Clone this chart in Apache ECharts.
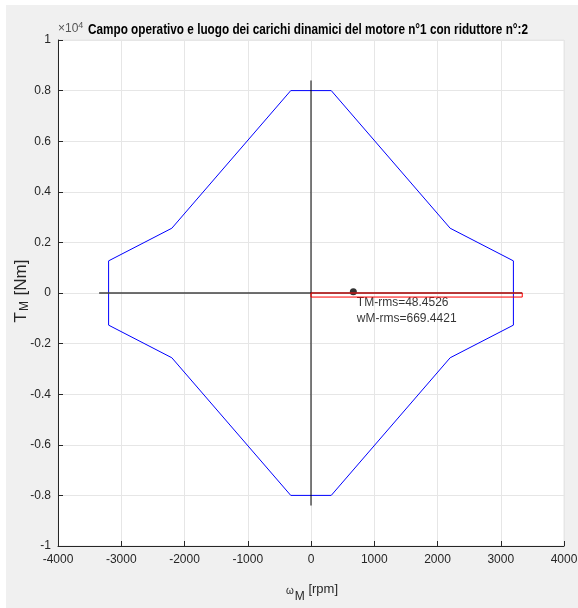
<!DOCTYPE html>
<html>
<head>
<meta charset="utf-8">
<script src="https://cdn.jsdelivr.net/npm/echarts@6/dist/echarts.min.js"></script>
<style>
  html, body { margin: 0; padding: 0; background: #fff; }
  #chart { position: absolute; left: 6px; top: 5px; width: 572px; height: 603px; background: #f0f0f0; }
</style>
</head>
<body>
<div id="chart"></div>
<script>
// operating envelope (blue)
const envW = [-320, 320, 2200, 3200, 3200, 2200, 320, -320, -2200, -3200, -3200, -2200, -320];
const envT = [8000, 8000, 2560, 1270, -1270, -2560, -8000, -8000, -2560, -1270, 1270, 2560, 8000];

// black reference axes
const axisHW = [-3350, 3340];
const axisHT = [0, 0];
const axisVW = [0, 0];
const axisVT = [8400, -8400];

// dynamic load locus (red)
const loadW = [0, 3340, 3340, 0, 0];
const loadT = [0, 0, -160, -160, 0];

// rms point
const rmsW = 669.4421;
const rmsT = 48.4526;

const xTicks = [-4000, -3000, -2000, -1000, 0, 1000, 2000, 3000, 4000];
const yTickLabels = ['-1', '-0.8', '-0.6', '-0.4', '-0.2', '0', '0.2', '0.4', '0.6', '0.8', '1'];

const titleText = 'Campo operativo e luogo dei carichi dinamici del motore n°1 con riduttore n°:2';

const sans = "'Liberation Sans', Arial, sans-serif";
const axCol = '#262626';

const zip = (a, b) => a.map((v, i) => [v, b[i]]);

// the reference text is condensed, squeeze the title to its width
const ctx = document.createElement('canvas').getContext('2d');
ctx.font = 'bold 14px ' + sans;
const titleScale = 440 / ctx.measureText(titleText).width;

const chart = echarts.init(document.getElementById('chart'));

chart.setOption({
    animation: false,
    backgroundColor: '#f0f0f0',
    grid: {
        left: 52, right: 14, top: 35, bottom: 62,
        outerBoundsMode: 'none',
        show: true, backgroundColor: '#fff', borderColor: '#e6e6e6', borderWidth: 1
    },
    xAxis: {
        type: 'value',
        min: xTicks[0], max: xTicks[xTicks.length - 1], interval: 1000,
        axisLine: { onZero: false, lineStyle: { color: axCol, width: 1 } },
        axisTick: { inside: true, length: 5, lineStyle: { color: axCol } },
        axisLabel: { color: axCol, fontFamily: sans, fontSize: 12, margin: 8, formatter: v => String(v) },
        splitLine: { lineStyle: { color: '#e6e6e6' } }
    },
    yAxis: {
        type: 'value',
        min: -10000, max: 10000, interval: 2000,
        axisLine: { show: true, onZero: false, lineStyle: { color: axCol, width: 1 } },
        axisTick: { show: true, inside: true, length: 5, lineStyle: { color: axCol } },
        axisLabel: {
            color: axCol, fontFamily: sans, fontSize: 12, margin: 7,
            formatter: v => yTickLabels[Math.round((v + 10000) / 2000)]
        },
        splitLine: { lineStyle: { color: '#e6e6e6' } }
    },
    graphic: [
        {
            type: 'text', x: 82, y: 25, scaleX: titleScale,
            style: {
                text: titleText, font: 'bold 14px ' + sans, fill: '#000',
                align: 'left', verticalAlign: 'middle'
            }
        },
        {
            type: 'text', left: 52, top: 16,
            style: {
                text: '{a|×10}{b|4}',
                rich: {
                    a: { fontFamily: sans, fontSize: 12, fill: '#555', padding: [6, 0, 0, 0] },
                    b: { fontFamily: sans, fontSize: 9, fill: '#555' }
                }
            }
        },
        {
            type: 'text', x: 15, y: 286, rotation: Math.PI / 2,
            style: {
                text: '{a|T}{b|M}{a| [Nm]}',
                align: 'center', verticalAlign: 'middle',
                rich: {
                    a: { fontFamily: sans, fontSize: 17, fill: axCol, lineHeight: 20 },
                    b: { fontFamily: sans, fontSize: 12, fill: axCol, padding: [7, 1, 0, 1], lineHeight: 20 }
                }
            }
        },
        {
            type: 'text', x: 306, y: 586,
            style: {
                text: '{w|ω}{b|M}{a| [rpm]}',
                align: 'center', verticalAlign: 'middle',
                rich: {
                    w: { fontFamily: sans, fontSize: 10, fill: axCol, padding: [0, 1, 0, 0] },
                    a: { fontFamily: sans, fontSize: 13, fill: axCol, padding: [0, 0, 4, 0] },
                    b: { fontFamily: sans, fontSize: 12, fill: axCol, padding: [12, 0, 0, 0] }
                }
            }
        }
    ],
    series: [
        {
            type: 'line', data: zip(envW, envT), showSymbol: false,
            lineStyle: { color: '#0000ff', width: 1 }
        },
        {
            type: 'line', data: zip(axisHW, axisHT), showSymbol: false,
            lineStyle: { color: '#404040', width: 1.6 }
        },
        {
            type: 'line', data: zip(axisVW, axisVT), showSymbol: false,
            lineStyle: { color: '#000', width: 1 }
        },
        {
            type: 'line', data: zip(loadW, loadT), showSymbol: false,
            lineStyle: { color: '#ff0000', width: 1 }
        },
        {
            type: 'scatter', data: [[rmsW, rmsT]], symbolSize: 7,
            itemStyle: { color: '#000' },
            label: {
                show: true, position: [7, 6], align: 'left', verticalAlign: 'top',
                fontFamily: sans, fontSize: 12, color: '#000', lineHeight: 16,
                formatter: () => 'TM-rms=' + rmsT + '\nwM-rms=' + rmsW
            }
        }
    ]
});

window.addEventListener('resize', () => chart.resize());
</script>
</body>
</html>
